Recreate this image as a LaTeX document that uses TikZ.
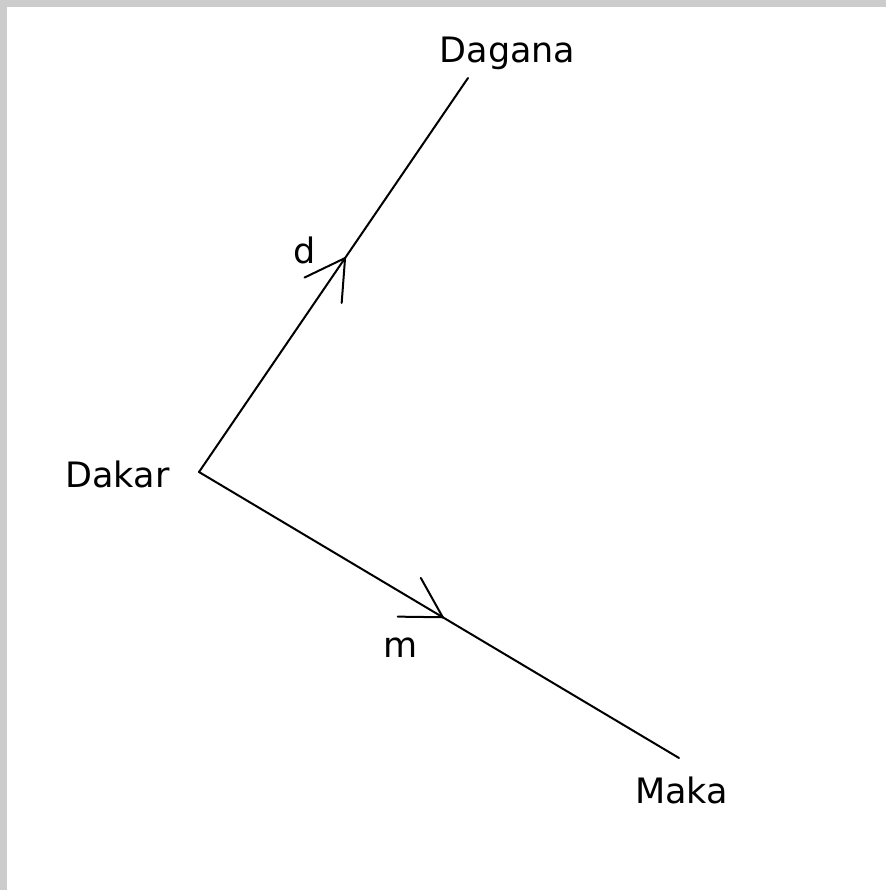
\documentclass[tikz,border=0pt]{standalone}
\usepackage{fontspec}
\setmainfont{DejaVu Sans}
\usetikzlibrary{decorations.markings}
\tikzset{
  edge/.style={line width=2pt, black, line cap=round},
  lbl/.style={inner sep=0pt, anchor=base, font=\fontsize{35}{42}\selectfont},
  midarrow/.style={postaction={decorate},
    decoration={markings, mark=at position #1 with {
      \draw[line width=2pt, line cap=round] (0,0) -- (150:45pt);
      \draw[line width=2pt, line cap=round] (0,0) -- (-150:45pt);}}}
}
\begin{document}
\begin{tikzpicture}[x=1pt,y=-1pt]
\useasboundingbox (0,0) rectangle (886,890);
\fill[color={rgb,255:red,204;green,204;blue,204}] (0,0) rectangle (886,890);
\fill[white] (7,7) rectangle (886,890);
\coordinate (pDakar) at (199,472);
\coordinate (pDagana) at (468,78);
\coordinate (pMaka) at (679,758);
\node[lbl] (tDakar) at (117.5,487) {Dakar};
\node[lbl] (tDagana) at (507.5,63) {Dagana};
\node[lbl] (tMaka) at (681.5,803) {Maka};
\node[lbl] (td) at (305,264) {d};
\node[lbl] (tm) at (401,657) {m};
\draw[edge, midarrow=0.543] (pDakar) -- (pDagana);
\draw[edge, midarrow=0.508] (pDakar) -- (pMaka);
\end{tikzpicture}
\end{document}
